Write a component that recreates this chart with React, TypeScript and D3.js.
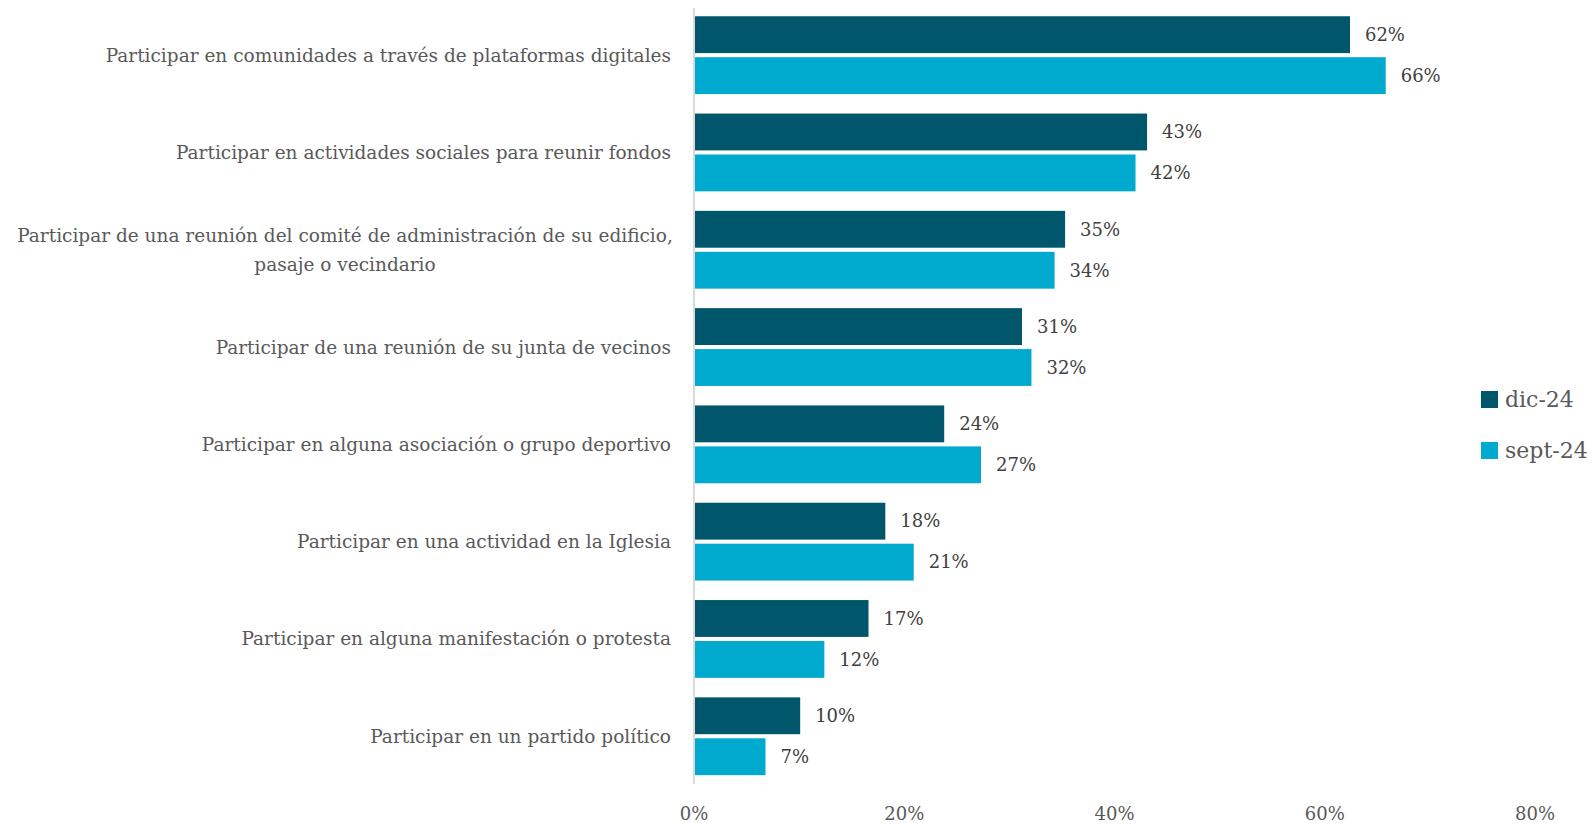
import React from 'react';
import * as d3 from 'd3';

const categories = [
  ['Participar en comunidades a través de plataformas digitales'],
  ['Participar en actividades sociales para reunir fondos'],
  ['Participar de una reunión del comité de administración de su edificio,', 'pasaje o vecindario'],
  ['Participar de una reunión de su junta de vecinos'],
  ['Participar en alguna asociación o grupo deportivo'],
  ['Participar en una actividad en la Iglesia'],
  ['Participar en alguna manifestación o protesta'],
  ['Participar en un partido político'],
];
const seriesNames = ['dic-24', 'sept-24'];
const dic24 = [62.4, 43.1, 35.3, 31.2, 23.8, 18.2, 16.6, 10.1];
const sept24 = [65.8, 42.0, 34.3, 32.1, 27.3, 20.9, 12.4, 6.8];
const xTicks = [0, 20, 40, 60, 80];

const colors = ['#00566a', '#00aacf'];
const font = '"DejaVu Serif", serif';

const App = () => {
  const width = 1593;
  const height = 824;
  const keys = categories.map((_, i) => String(i));
  const series = [dic24, sept24];

  const x = d3.scaleLinear().domain([0, 80]).range([694, 1535]);
  const y = d3.scaleBand().domain(keys).range([6.5, 6.5 + 8 * 97.3]);
  const inner = d3.scaleBand()
    .domain(seriesNames)
    .range([9.75, y.bandwidth() - 9.75])
    .paddingInner(0.1);
  const fmt = (v: number) => d3.format('.0f')(v) + '%';

  return (
    <svg width={width} height={height} style={{ position: 'absolute', left: 0, top: 0, background: '#fff' }}>
      {/* category labels; wrapped ones are centred as a block */}
      {categories.map((lines, i) => {
        const cy = y(keys[i])! + y.bandwidth() / 2;
        const lh = 29;
        const multi = lines.length > 1;
        return (
          <text key={'c' + i} fontFamily={font} fontSize={18.5} fill="#595959"
            textAnchor={multi ? 'middle' : 'end'}>
            {lines.map((l, j) => (
              <tspan key={j} x={multi ? 345 : 671}
                y={cy + (j - (lines.length - 1) / 2) * lh} dy="0.35em">
                {l}
              </tspan>
            ))}
          </text>
        );
      })}

      {/* bars */}
      {series.map((vals, s) =>
        vals.map((v, i) => {
          const by = y(keys[i])! + inner(seriesNames[s])!;
          return (
            <g key={'b' + s + '-' + i}>
              <rect x={x(0) + 1} y={by} width={x(v) - x(0) - 1} height={inner.bandwidth()} fill={colors[s]} />
              <text x={x(v) + 15} y={by + inner.bandwidth() / 2} dy="0.35em"
                fontFamily={font} fontSize={18} fill="#404040">{fmt(v)}</text>
            </g>
          );
        })
      )}

      {/* axis line */}
      <line x1={x(0)} x2={x(0)} y1={8} y2={784} stroke="#d9d9d9" strokeWidth={2} />

      {/* x tick labels */}
      {xTicks.map(t => (
        <text key={'t' + t} x={x(t)} y={820} textAnchor="middle" fontFamily={font} fontSize={18} fill="#595959">
          {t + '%'}
        </text>
      ))}

      {/* legend */}
      {seriesNames.map((n, s) => (
        <g key={'l' + n} transform={`translate(1481,${391 + s * 51})`}>
          <rect width={17} height={17} fill={colors[s]} />
          <text x={24} y={8.5} dy="0.35em" fontFamily={font} fontSize={22} fill="#595959">{n}</text>
        </g>
      ))}
    </svg>
  );
};

export default App;
